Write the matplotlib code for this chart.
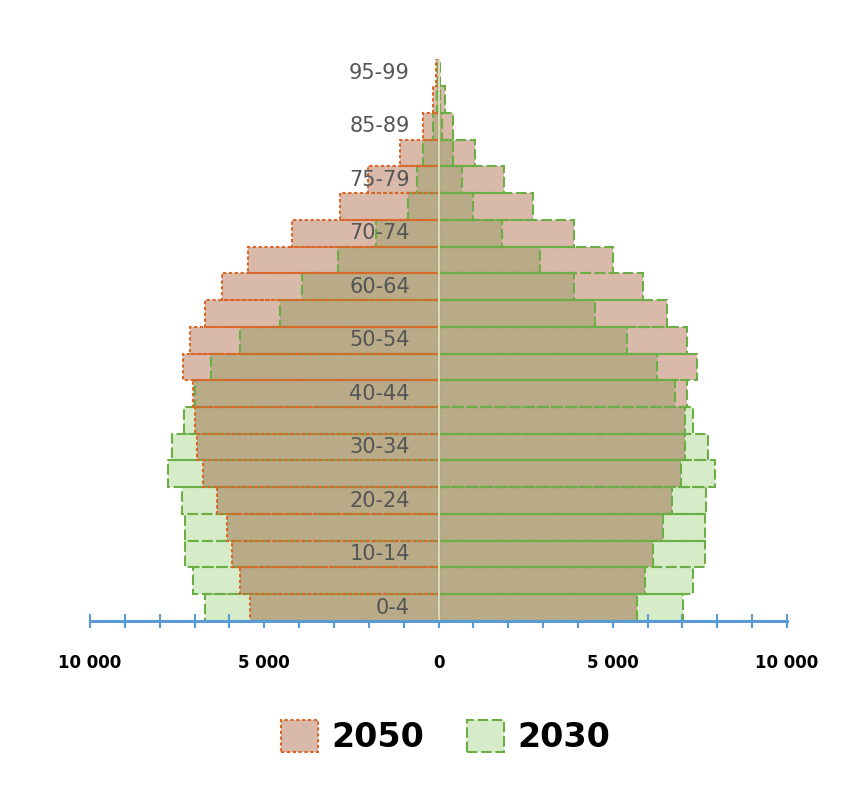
import numpy as np
import matplotlib
matplotlib.use("Agg")
import matplotlib.pyplot as plt
from matplotlib.patches import Patch
from matplotlib.ticker import FuncFormatter, MultipleLocator

# Population by five-year age group (thousands); left half and right half of the pyramid
n_rows = 21
shown_labels = ["0-4", "10-14", "20-24", "30-34", "40-44", "50-54",
                "60-64", "70-74", "75-79", "85-89", "95-99"]

left_2050 = [5410, 5695, 5935, 6080, 6365, 6750, 6940, 7000, 7050, 7320, 7130,
             6700, 6220, 5455, 4210, 2825, 2020, 1105, 445, 160, 70]
left_2030 = [6700, 7035, 7270, 7270, 7370, 7750, 7655, 7300, 6990, 6530, 5695,
             4550, 3925, 2875, 1800, 875, 625, 445, 160, 50, 20]
right_2050 = [5690, 5925, 6145, 6450, 6690, 6950, 7075, 7075, 7120, 7410, 7140,
              6565, 5860, 5015, 3890, 2700, 1880, 1050, 425, 185, 45]
right_2030 = [7005, 7310, 7650, 7650, 7675, 7935, 7740, 7310, 6785, 6260, 5420,
              4490, 3890, 2910, 1815, 980, 665, 425, 90, 30, 10]

PINK = "#d9b9a9"
GREEN = "#d6ebc7"
TAN = "#b9aa88"
ORANGE_EDGE = "#d9672a"
GREEN_EDGE = "#6aae45"
AXIS_BLUE = "#5b9bd5"
DOTTED = (0, (1.6, 1.2))
DASHED = (0, (5, 1.8))

fig = plt.figure(figsize=(8.64, 7.99), dpi=100)
ax = fig.add_axes([0.1042, 0.2228, 0.8067, 0.703])

y = np.arange(n_rows)
l50 = -np.array(left_2050)
l30 = -np.array(left_2030)
r50 = np.array(right_2050)
r30 = np.array(right_2030)

# fills: each series alone, then the shared part darker
for vals in (l50, r50):
    ax.barh(y, vals, height=1.0, color=PINK, linewidth=0, zorder=1)
for vals in (l30, r30):
    ax.barh(y, vals, height=1.0, color=GREEN, linewidth=0, zorder=1)
ax.barh(y, np.maximum(l50, l30), height=1.0, color=TAN, linewidth=0, zorder=2)
ax.barh(y, np.minimum(r50, r30), height=1.0, color=TAN, linewidth=0, zorder=2)

# outlines
ax.barh(y, l30, height=1.0, fill=False, edgecolor=GREEN_EDGE, linewidth=1.5,
        linestyle=DASHED, zorder=3)
ax.barh(y, l50, height=1.0, fill=False, edgecolor=ORANGE_EDGE, linewidth=1.5,
        linestyle=DOTTED, zorder=4)
ax.barh(y, r50, height=1.0, fill=False, edgecolor=GREEN_EDGE, linewidth=1.5,
        linestyle=DASHED, zorder=3)
ax.barh(y, r30, height=1.0, fill=False, edgecolor=GREEN_EDGE, linewidth=1.5,
        linestyle=DASHED, zorder=4)

ax.axvline(0, color="#ece3d4", linewidth=1.2, zorder=5)

# age labels on every other row
for i, lab in enumerate(shown_labels):
    ax.text(0.459, 2 * i, lab, transform=ax.get_yaxis_transform(),
            ha="right", va="center", fontsize=15, color="#555555", zorder=6)

ax.set_xlim(-10000, 10000)
ax.set_ylim(-0.5, n_rows - 0.5)

for side in ("top", "left", "right"):
    ax.spines[side].set_visible(False)
ax.spines["bottom"].set_color(AXIS_BLUE)
ax.spines["bottom"].set_linewidth(2.2)
ax.spines["bottom"].set_zorder(7)

ax.set_yticks([])
ax.xaxis.set_major_locator(MultipleLocator(5000))
ax.xaxis.set_minor_locator(MultipleLocator(1000))
ax.xaxis.set_major_formatter(FuncFormatter(lambda v, p: f"{abs(int(v)):,}".replace(",", " ")))
ax.tick_params(axis="x", which="both", direction="inout", length=10, width=1.5,
               color=AXIS_BLUE)
ax.tick_params(axis="x", which="major", pad=19, labelsize=12)
for t in ax.get_xticklabels():
    t.set_fontweight("bold")

handles = [
    Patch(facecolor=PINK, edgecolor=ORANGE_EDGE, linestyle=DOTTED, linewidth=1.5, label="2050"),
    Patch(facecolor=GREEN, edgecolor=GREEN_EDGE, linestyle=DASHED, linewidth=1.5, label="2030"),
]
fig.legend(handles=handles, loc="center", bbox_to_anchor=(0.516, 0.078), ncol=2,
           frameon=False, prop={"weight": "bold", "size": 24},
           handlelength=1.1, handleheight=1.1, handletextpad=0.4, columnspacing=1.3)

fig.savefig("out.png", dpi=100)
